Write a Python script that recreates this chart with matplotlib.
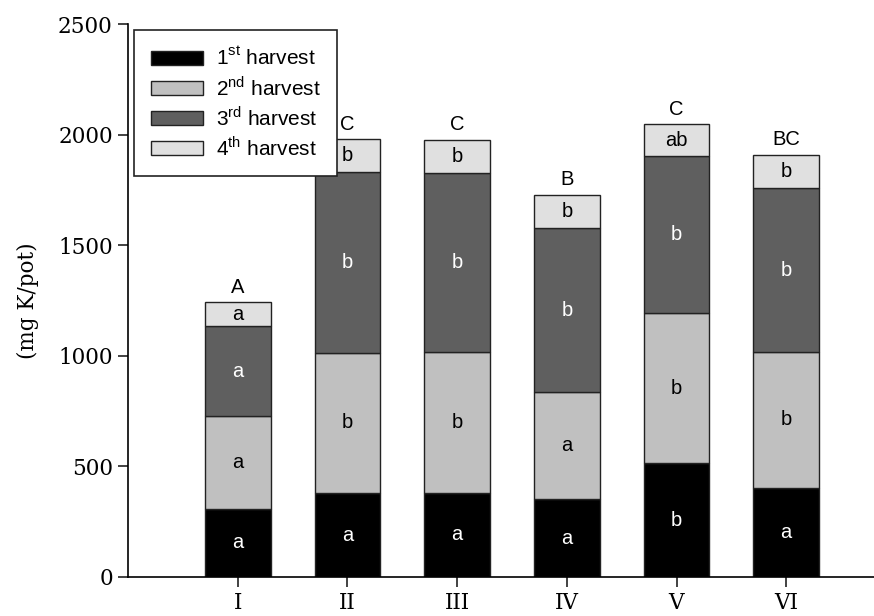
import numpy as np
import matplotlib
matplotlib.use("Agg")
import matplotlib.pyplot as plt

plt.rcParams['mathtext.fontset'] = 'custom'
plt.rcParams['mathtext.rm'] = 'Liberation Sans'

# treatments and harvest values (mg K/pot)
treatments = ['I', 'II', 'III', 'IV', 'V', 'VI']
harvest1 = [305, 377, 378, 350, 513, 403]
harvest2 = [422, 637, 637, 484, 679, 615]
harvest3 = [407, 819, 810, 742, 712, 739]
harvest4 = [108, 146, 151, 151, 143, 151]

letters1 = ['a', 'a', 'a', 'a', 'b', 'a']
letters2 = ['a', 'b', 'b', 'a', 'b', 'b']
letters3 = ['a', 'b', 'b', 'b', 'b', 'b']
letters4 = ['a', 'b', 'b', 'b', 'ab', 'b']
total_letters = ['A', 'C', 'C', 'B', 'C', 'BC']

legend_labels = [r'1$^{\rm st}$ harvest', r'2$^{\rm nd}$ harvest',
                 r'3$^{\rm rd}$ harvest', r'4$^{\rm th}$ harvest']
colors = ['#000000', '#c0c0c0', '#5f5f5f', '#e0e0e0']
text_colors = ['white', 'black', 'white', 'black']

fig = plt.figure(figsize=(8.74, 6.16), dpi=100)
ax = fig.add_axes([0.1465, 0.0638, 0.8535, 0.897])

x = np.arange(len(treatments))
series = [harvest1, harvest2, harvest3, harvest4]
letters = [letters1, letters2, letters3, letters4]
bottom = np.zeros(len(treatments))
for vals, lab, col, tcol, let in zip(series, legend_labels, colors, text_colors, letters):
    vals = np.array(vals, dtype=float)
    ax.bar(x, vals, width=0.6, bottom=bottom, color=col, edgecolor='#222222',
           linewidth=1.0, label=lab)
    for xi, b, v, s in zip(x, bottom, vals, let):
        ax.text(xi, b + v / 2, s, ha='center', va='center', color=tcol,
                fontsize=14.5, family='Liberation Sans')
    bottom = bottom + vals

for xi, top, s in zip(x, bottom, total_letters):
    ax.text(xi, top + 25, s, ha='center', va='bottom', fontsize=14.5,
            family='Liberation Sans')

ax.set_xlim(-1.0, 5.8)
ax.set_ylim(0, 2500)
ax.set_xticks(x)
ax.set_xticklabels(treatments)
ax.set_yticks([0, 500, 1000, 1500, 2000, 2500])
for lbl in ax.get_xticklabels() + ax.get_yticklabels():
    lbl.set_family('DejaVu Serif')
    lbl.set_fontsize(15.5)
ax.tick_params(direction='out', length=7, width=1.2, color='#222222', pad=4)
ax.spines['top'].set_visible(False)
ax.spines['right'].set_visible(False)
ax.spines['left'].set_linewidth(1.2)
ax.spines['bottom'].set_linewidth(1.2)
ax.set_ylabel('(mg K/pot)', family='DejaVu Serif', fontsize=15.5, labelpad=14)

leg = ax.legend(loc='upper left', bbox_to_anchor=(0.0, 1.0), fancybox=False,
                edgecolor='#222222', framealpha=1, handlelength=2.5,
                handleheight=0.65, handletextpad=0.6, borderpad=0.8,
                labelspacing=0.3, borderaxespad=0.3,
                prop={'family': 'Liberation Sans', 'size': 15})
leg.get_frame().set_linewidth(1.2)

fig.savefig('out.png', dpi=100)
